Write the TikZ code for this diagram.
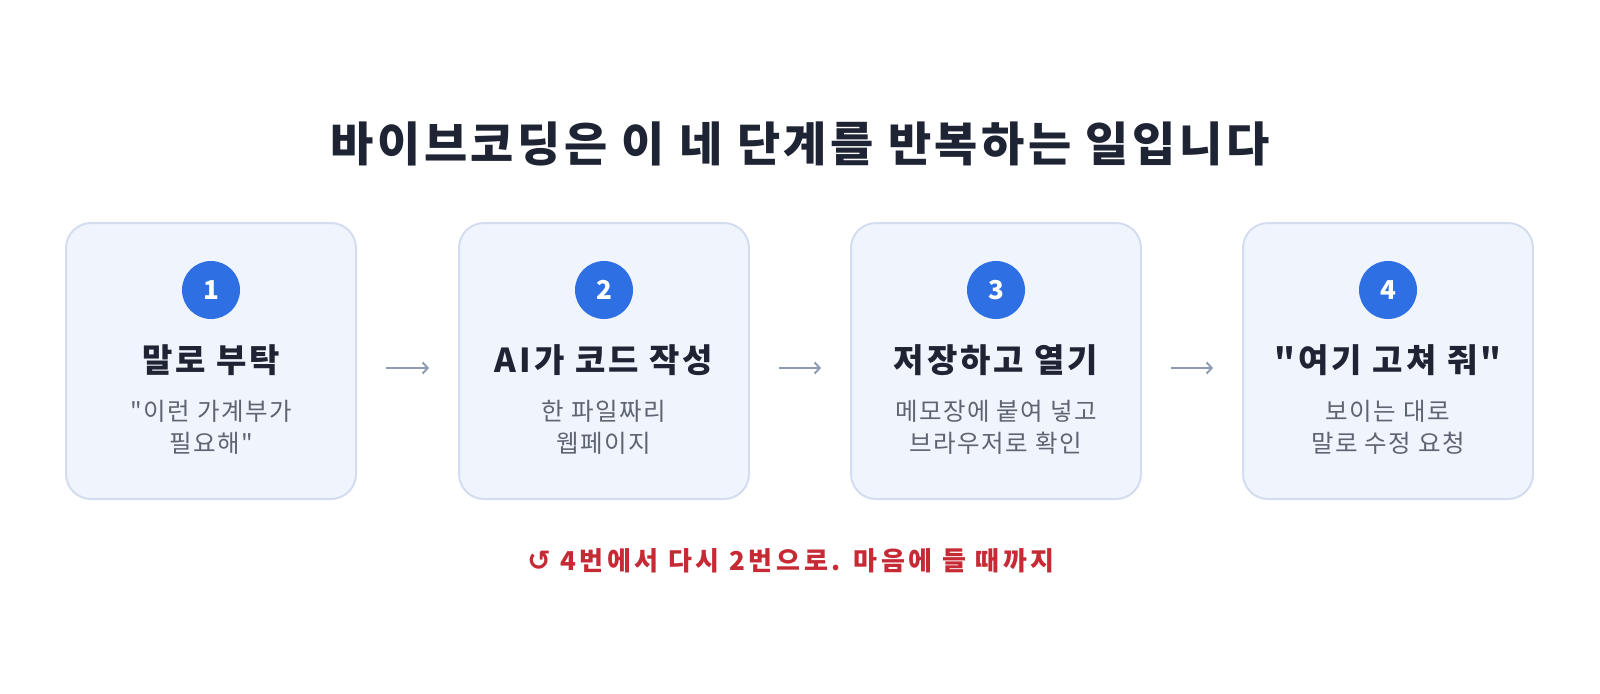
\documentclass[tikz,border=0pt]{standalone}
\usepackage{fontspec}
\setmainfont{Noto Sans CJK KR}[Ligatures=TeXOff]
\newfontfamily\symfont{DejaVu Sans}
\usepackage{xcolor}
\usetikzlibrary{arrows.meta,positioning}

\definecolor{boxfill}{HTML}{EFF4FD}
\definecolor{boxline}{HTML}{D4DDF0}
\definecolor{numblue}{HTML}{2F6FE4}
\definecolor{ink}{HTML}{1E2433}
\definecolor{subgray}{HTML}{5E6572}
\definecolor{arrgray}{HTML}{8F9BB3}
\definecolor{loopred}{HTML}{C62A35}

\begin{document}
\begin{tikzpicture}[x=1pt, y=-1pt, >={Straight Barb[length=5pt,width=11pt]}]
  % Styles
  \tikzstyle{stepcard}=[draw=boxline, line width=2pt, fill=boxfill, rounded corners=25pt, minimum width=290pt, minimum height=276pt]
  \tikzstyle{num}=[circle, fill=numblue, minimum size=58pt, inner sep=0pt, text=white, font=\fontsize{26}{30}\selectfont\bfseries]
  \tikzstyle{head}=[text=ink, font=\fontsize{33}{38}\selectfont\bfseries\addfontfeature{LetterSpace=9}]
  \tikzstyle{sub}=[text=subgray, align=center, font=\fontsize{24.5}{32}\selectfont\addfontfeature{LetterSpace=6}]
  \tikzstyle{flow}=[->, arrgray, line width=2pt, shorten <=29pt, shorten >=29pt]

  \useasboundingbox (0,0) rectangle (1600,693);

  % Title
  \node[text=ink, font=\fontsize{47}{52}\selectfont\bfseries\addfontfeature{LetterSpace=7.5}] (title) at (800,144) {바이브코딩은 이 네 단계를 반복하는 일입니다};

  % Step 1
  \node[stepcard] (box1) at (211,361) {};
  \node[num] (n1) at (211,290) {1};
  \node[head] (h1) at (211,360) {말로 부탁};
  \node[sub] (s1) at (211,427) {"이런 가계부가\\필요해"};

  % Step 2
  \node[stepcard] (box2) at (604,361) {};
  \node[num] (n2) at (604,290) {2};
  \node[head] (h2) at (604,360) {AI가 코드 작성};
  \node[sub] (s2) at (604,427) {한 파일짜리\\웹페이지};

  % Step 3
  \node[stepcard] (box3) at (996,361) {};
  \node[num] (n3) at (996,290) {3};
  \node[head] (h3) at (996,360) {저장하고 열기};
  \node[sub] (s3) at (996,427) {메모장에 붙여 넣고\\브라우저로 확인};

  % Step 4
  \node[stepcard] (box4) at (1388,361) {};
  \node[num] (n4) at (1388,290) {4};
  \node[head] (h4) at (1388,360) {"여기 고쳐 줘"};
  \node[sub] (s4) at (1388,427) {보이는 대로\\말로 수정 요청};

  % Arrows between steps
  \draw[flow] ([yshift=-7pt]box1.east) -- ([yshift=-7pt]box2.west);
  \draw[flow] ([yshift=-7pt]box2.east) -- ([yshift=-7pt]box3.west);
  \draw[flow] ([yshift=-7pt]box3.east) -- ([yshift=-7pt]box4.west);

  % Loop note
  \node[text=loopred, font=\fontsize{26}{30}\selectfont\bfseries\addfontfeature{LetterSpace=14}] (loop) at (791,561) {{\symfont\fontsize{28}{30}\selectfont ↺} 4번에서 다시 2번으로. 마음에 들 때까지};
\end{tikzpicture}
\end{document}
